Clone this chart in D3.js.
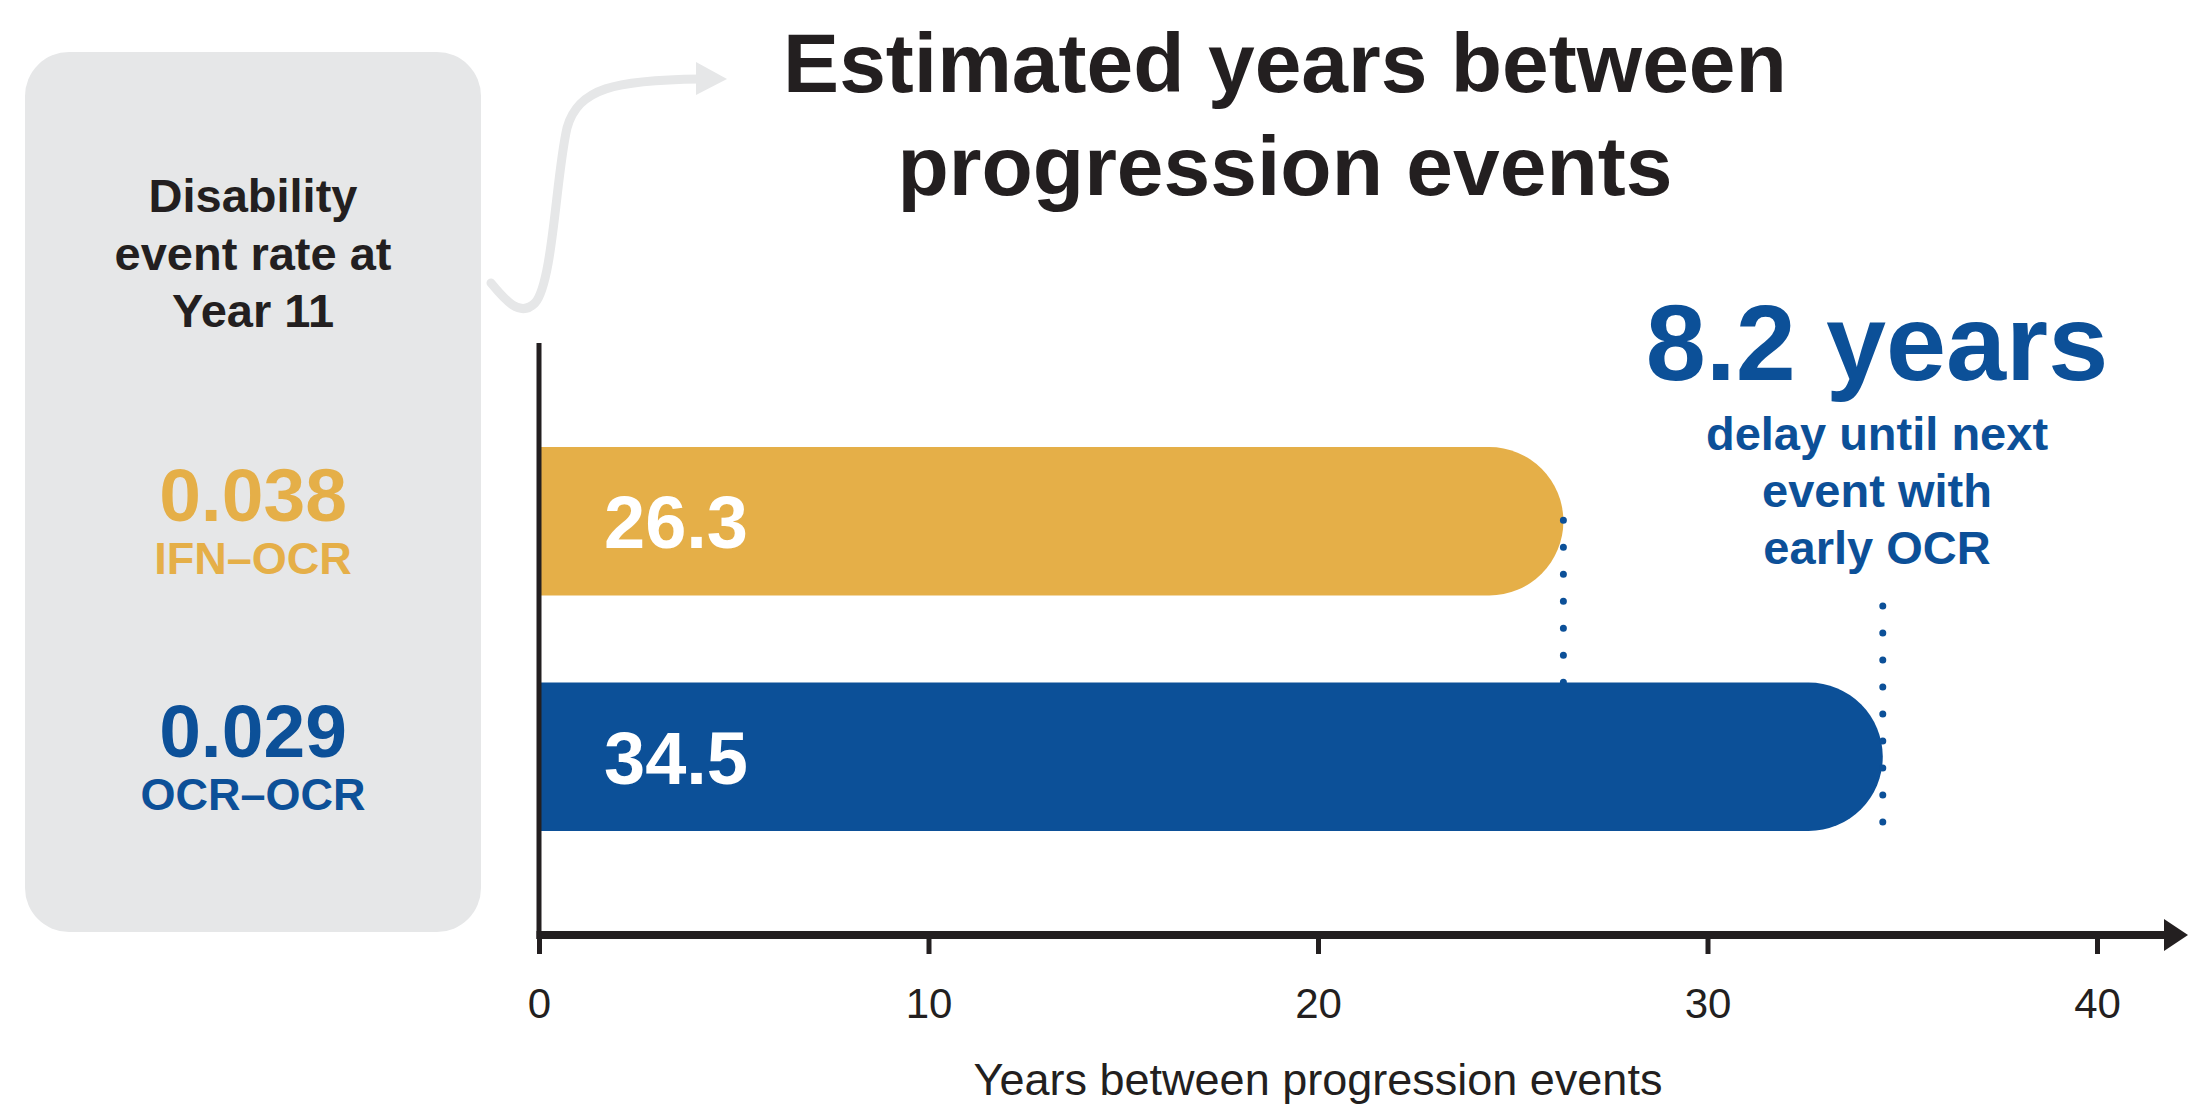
<!DOCTYPE html>
<html>
<head>
<meta charset="utf-8">
<script src="https://cdn.jsdelivr.net/npm/d3@7"></script>
<style>
  html, body { margin: 0; padding: 0; background: #ffffff; }
  svg { display: block; }
  text { font-family: "Liberation Sans", Arial, Helvetica, sans-serif; }
</style>
</head>
<body>
<div id="chart"></div>
<script>
// ---- data ----
const categories = ["IFN–OCR", "OCR–OCR"];
const yearsBetween = [26.3, 34.5];
const eventRates = [0.038, 0.029];
const barColors = ["#E5AF48", "#0C5098"];
const xTicks = [0, 10, 20, 30, 40];
const delayYears = 8.2;
const titleLines = ["Estimated years between", "progression events"];
const boxLines = ["Disability", "event rate at", "Year 11"];
const delayLines = ["delay until next", "event with", "early OCR"];
const xAxisTitle = "Years between progression events";

// ---- layout ----
const W = 2188, H = 1115;
const ink = "#231F20", gray = "#E6E7E8", blue = "#0C5098";

const svg = d3.select("#chart").append("svg")
  .attr("width", W).attr("height", H).attr("viewBox", `0 0 ${W} ${H}`);

const x = d3.scaleLinear().domain([0, 40]).range([539, 2097]);
const y = d3.scaleBand().domain(categories).range([447, 831]).paddingInner(0.37).paddingOuter(0);

// gray panel
svg.append("rect").attr("x", 25).attr("y", 52).attr("width", 456).attr("height", 880)
  .attr("rx", 44).attr("ry", 44).attr("fill", gray);

svg.append("g").selectAll("text").data(boxLines).join("text")
  .attr("x", 253).attr("y", (d, i) => 212 + i * 57.5)
  .attr("text-anchor", "middle").attr("font-size", 47).attr("font-weight", "bold")
  .attr("fill", ink).text(d => d);

// event rates in panel
const fmt = d3.format(".3f");
const rateG = svg.append("g").selectAll("g").data(categories).join("g")
  .attr("transform", d => `translate(253, ${y(d) + y.bandwidth() / 2})`);
rateG.append("text").attr("text-anchor", "middle").attr("y", 0)
  .attr("font-size", 75).attr("font-weight", "bold")
  .attr("fill", (d, i) => barColors[i]).text((d, i) => fmt(eventRates[i]));
rateG.append("text").attr("text-anchor", "middle").attr("y", 53)
  .attr("font-size", 45).attr("font-weight", "bold")
  .attr("fill", (d, i) => barColors[i]).text(d => d);

// curved gray arrow
svg.append("path")
  .attr("d", "M491,283 C505,300 520,318 535,303 C553,283 556,175 567,128 C578,88 615,80 700,79")
  .attr("fill", "none").attr("stroke", gray).attr("stroke-width", 9).attr("stroke-linecap", "round");
svg.append("path").attr("d", "M696,62 L727,79 L696,95 Z").attr("fill", gray);

// title
svg.append("g").selectAll("text").data(titleLines).join("text")
  .attr("x", 1285).attr("y", (d, i) => 92 + i * 103)
  .attr("text-anchor", "middle").attr("font-size", 84).attr("font-weight", "bold")
  .attr("fill", ink).text(d => d);

// bars with rounded right ends
function barPath(v, cat) {
  const x0 = x(0), xe = x(v), y0 = y(cat), h = y.bandwidth(), r = h / 2;
  const p = d3.path();
  p.moveTo(x0, y0);
  p.lineTo(xe - r, y0);
  p.arc(xe - r, y0 + r, r, -Math.PI / 2, Math.PI / 2, false);
  p.lineTo(x0, y0 + h);
  p.closePath();
  return p.toString();
}
svg.append("g").selectAll("path").data(categories).join("path")
  .attr("d", (d, i) => barPath(yearsBetween[i], d))
  .attr("fill", (d, i) => barColors[i]);

svg.append("g").selectAll("text").data(categories).join("text")
  .attr("x", x(0) + 65).attr("y", d => y(d) + y.bandwidth() / 2 + 27)
  .attr("font-size", 74).attr("font-weight", "bold").attr("fill", "#ffffff")
  .text((d, i) => yearsBetween[i].toFixed(1));

// dotted guides
const dot = { stroke: blue, "stroke-width": 7, "stroke-linecap": "round", "stroke-dasharray": "0 27" };
function dotted(x1, y1, y2) {
  const l = svg.append("line").attr("x1", x1).attr("x2", x1).attr("y1", y1).attr("y2", y2);
  Object.entries(dot).forEach(([k, v]) => l.attr(k, v));
}
dotted(x(yearsBetween[0]), y(categories[0]) + y.bandwidth() / 2 - 1, y(categories[1]));
dotted(x(yearsBetween[1]), 606, y(categories[1]) + y.bandwidth() + 1);

// annotation
svg.append("text").attr("x", 1877).attr("y", 380).attr("text-anchor", "middle")
  .attr("font-size", 108).attr("font-weight", "bold").attr("fill", blue)
  .text(`${delayYears} years`);
svg.append("g").selectAll("text").data(delayLines).join("text")
  .attr("x", 1877).attr("y", (d, i) => 450 + i * 57)
  .attr("text-anchor", "middle").attr("font-size", 47).attr("font-weight", "bold")
  .attr("fill", blue).text(d => d);

// axes
const axisG = svg.append("g").attr("transform", "translate(0,935)");
const xAxis = d3.axisBottom(x).tickValues(xTicks).tickSize(19).tickPadding(0).tickFormat(d3.format("d"));
axisG.call(xAxis);
axisG.select(".domain").remove();
axisG.selectAll(".tick line").attr("stroke", ink).attr("stroke-width", 5);
axisG.selectAll(".tick text").attr("fill", ink).attr("font-size", 42)
  .attr("font-family", "'Liberation Sans', Arial, sans-serif").attr("dy", null).attr("y", 83);

// x axis line with arrow
svg.append("line").attr("x1", x(0) - 2.5).attr("x2", 2168).attr("y1", 935).attr("y2", 935)
  .attr("stroke", ink).attr("stroke-width", 8);
svg.append("path").attr("d", "M2164,919 L2188,935 L2164,951 Z").attr("fill", ink);

// y axis line
svg.append("line").attr("x1", x(0)).attr("x2", x(0)).attr("y1", 343).attr("y2", 939)
  .attr("stroke", ink).attr("stroke-width", 5);

// axis title
svg.append("text").attr("x", (x(0) + x(40)) / 2).attr("y", 1095).attr("text-anchor", "middle")
  .attr("font-size", 45).attr("fill", ink).text(xAxisTitle);
</script>
</body>
</html>
